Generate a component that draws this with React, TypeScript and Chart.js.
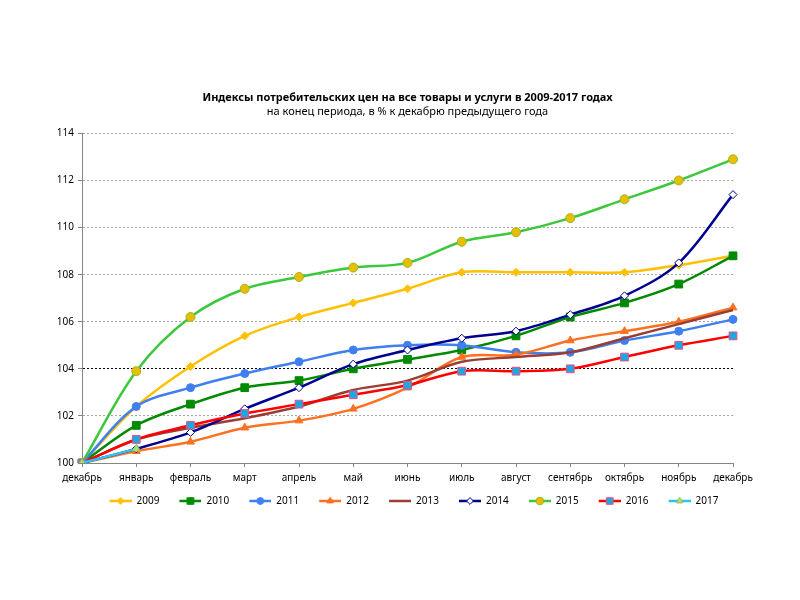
import { useEffect, useRef } from "react";
import { Chart, registerables } from "chart.js";
import { drawPoint } from "chart.js/helpers";

Chart.register(...registerables);

const months = [
  "декабрь", "январь", "февраль", "март", "апрель", "май", "июнь",
  "июль", "август", "сентябрь", "октябрь", "ноябрь", "декабрь",
];

const yTicks = [100, 102, 104, 106, 108, 110, 112, 114];

const cpi2009 = [100, 102.4, 104.1, 105.4, 106.2, 106.8, 107.4, 108.1, 108.1, 108.1, 108.1, 108.4, 108.8];
const cpi2010 = [100, 101.6, 102.5, 103.2, 103.5, 104.0, 104.4, 104.8, 105.4, 106.2, 106.8, 107.6, 108.8];
const cpi2011 = [100, 102.4, 103.2, 103.8, 104.3, 104.8, 105.0, 105.0, 104.7, 104.7, 105.2, 105.6, 106.1];
const cpi2012 = [100, 100.5, 100.9, 101.5, 101.8, 102.3, 103.2, 104.5, 104.6, 105.2, 105.6, 106.0, 106.6];
const cpi2013 = [100, 101.0, 101.5, 101.9, 102.4, 103.1, 103.5, 104.3, 104.5, 104.7, 105.3, 105.9, 106.5];
const cpi2014 = [100, 100.6, 101.3, 102.3, 103.2, 104.2, 104.8, 105.3, 105.6, 106.3, 107.1, 108.5, 111.4];
const cpi2015 = [100, 103.9, 106.2, 107.4, 107.9, 108.3, 108.5, 109.4, 109.8, 110.4, 111.2, 112.0, 112.9];
const cpi2016 = [100, 101.0, 101.6, 102.1, 102.5, 102.9, 103.3, 103.9, 103.9, 104.0, 104.5, 105.0, 105.4];
const cpi2017 = [100, 100.6];

type Style = {
  label: string;
  data: number[];
  line: string;
  fill: string;
  border: string;
  point: string | false;
  radius: number;
};

const series: Style[] = [
  { label: "2009", data: cpi2009, line: "#FFC000", fill: "#FFC000", border: "#FFC000", point: "rectRot", radius: 4 },
  { label: "2010", data: cpi2010, line: "#008A00", fill: "#008A00", border: "#008A00", point: "rect", radius: 5.5 },
  { label: "2011", data: cpi2011, line: "#3F7FEF", fill: "#3F7FEF", border: "#3F7FEF", point: "circle", radius: 4 },
  { label: "2012", data: cpi2012, line: "#FF7020", fill: "#FF7020", border: "#FF7020", point: "triangle", radius: 4.5 },
  { label: "2013", data: cpi2013, line: "#9B3D32", fill: "#9B3D32", border: "#9B3D32", point: false, radius: 0 },
  { label: "2014", data: cpi2014, line: "#000090", fill: "#FFFFFF", border: "#000090", point: "rectRot", radius: 4 },
  { label: "2015", data: cpi2015, line: "#3CC83C", fill: "#E6C000", border: "#A0B428", point: "circle", radius: 4.5 },
  { label: "2016", data: cpi2016, line: "#FF0000", fill: "#1FA8E0", border: "#E0508A", point: "rect", radius: 5.5 },
  { label: "2017", data: cpi2017, line: "#2EC4F0", fill: "#B8DC78", border: "#94C050", point: "triangle", radius: 4.5 },
];

const font = "'Noto Sans', 'DejaVu Sans', sans-serif";

// legend icon: blank lead-in, then a short line with the marker in its middle
const ICON_W = 35;
const LEAD = 13;

function makeIcon(s: Style) {
  const c = document.createElement("canvas");
  c.width = ICON_W;
  c.height = 12;
  const ctx = c.getContext("2d")!;
  ctx.strokeStyle = s.line;
  ctx.lineWidth = 2.5;
  ctx.beginPath();
  ctx.moveTo(LEAD, 6);
  ctx.lineTo(ICON_W, 6);
  ctx.stroke();
  if (s.point) {
    ctx.fillStyle = s.fill;
    ctx.strokeStyle = s.border;
    ctx.lineWidth = 1;
    drawPoint(ctx, { pointStyle: s.point as any, rotation: 0, radius: s.radius * 0.85, borderWidth: 1 }, (LEAD + ICON_W) / 2, 6);
  }
  return c;
}

export default function App() {
  const canvas = useRef<HTMLCanvasElement>(null);

  useEffect(() => {
    const icons = series.map(makeIcon);
    const chart = new Chart(canvas.current!, {
      type: "line",
      data: {
        labels: months,
        datasets: series.map((s, i) => ({
          label: s.label,
          data: s.data,
          borderColor: s.line,
          backgroundColor: s.fill,
          pointBackgroundColor: s.fill,
          pointBorderColor: s.border,
          pointBorderWidth: 1,
          pointStyle: s.point as any,
          pointRadius: s.radius,
          borderWidth: 2.5,
          tension: 0.33,
          fill: false,
          order: series.length - i,
        })),
      },
      options: {
        animation: false,
        responsive: true,
        maintainAspectRatio: false,
        layout: { padding: { left: 40, right: 59, top: 0, bottom: 76 } },
        plugins: {
          title: {
            display: true,
            fullSize: false,
            text: "Индексы потребительских цен на все товары и услуги в 2009-2017 годах",
            color: "#000",
            font: { family: font, size: 11, weight: "bold" },
            padding: { top: 83, bottom: 1 },
          },
          subtitle: {
            display: true,
            fullSize: false,
            text: "на конец периода, в % к декабрю предыдущего года",
            color: "#000",
            font: { family: font, size: 11 },
            padding: { top: 0, bottom: 15 },
          },
          legend: {
            position: "bottom",
            fullSize: false,
            labels: {
              usePointStyle: true,
              pointStyleWidth: ICON_W,
              boxHeight: 12,
              padding: 7,
              color: "#000",
              font: { family: font, size: 10 },
              generateLabels: () =>
                series.map((s, i) => ({
                  text: s.label,
                  datasetIndex: i,
                  pointStyle: icons[i],
                  fillStyle: s.fill,
                  strokeStyle: s.line,
                  lineWidth: 0,
                  hidden: false,
                  fontColor: "#000",
                })),
            },
          },
          tooltip: { enabled: false },
        },
        scales: {
          x: {
            grid: { display: true, drawOnChartArea: false, tickLength: 4, color: "#868686" },
            border: { color: "#868686", width: 1 },
            ticks: { color: "#000", font: { family: font, size: 10 }, padding: 5, maxRotation: 0, autoSkip: false },
          },
          y: {
            min: 100,
            max: 114,
            afterBuildTicks: (scale) => {
              scale.ticks = yTicks.map((v) => ({ value: v }));
            },
            afterFit: (scale) => {
              scale.width = 34;
            },
            grid: {
              color: (ctx) => (ctx.tick && ctx.tick.value === 104 ? "#000000" : "#A6A6A6"),
              tickColor: "#868686",
              tickLength: 4,
              tickBorderDash: [],
              lineWidth: 1,
            },
            border: { color: "#868686", width: 1, dash: [2, 2] },
            ticks: { color: "#000", font: { family: font, size: 10 }, padding: 4 },
          },
        },
      },
    });
    return () => chart.destroy();
  }, []);

  return (
    <div style={{ width: 784, height: 584, position: "relative" }}>
      <canvas ref={canvas} />
    </div>
  );
}
